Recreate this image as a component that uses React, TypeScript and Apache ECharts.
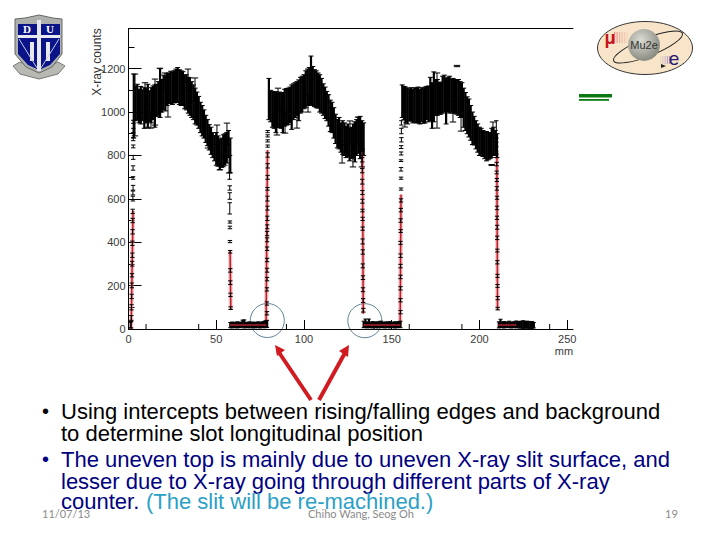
import React, { useEffect, useRef } from "react";
import * as echarts from "echarts";

const xTickLabels = [0, 50, 100, 150, 200, 250];
const xMinorTicks = [10, 40, 90, 140, 160, 190, 240];

const plateau1Start = 3;
const plateau1Hi = [1175,1120,1128,1105,1118,1102,1112,1108,1128,1098,1112,1120,1125,1128,1140,1200,1150,1170,1165,1178,1180,1188,1182,1190,1198,1205,1195,1190,1186,1170,1172,1160,1158,1140,1125,1110,1092,1072,1045,1030,1010,985,965,942,930,905,892,905,890,875,880,895,900,905,915,880];
const plateau1Lo = [880,960,965,950,945,960,925,950,930,955,950,965,930,980,985,975,1000,1010,1005,1030,1040,1040,1035,1042,1044,1045,1035,1030,1030,1015,1010,995,985,975,965,945,940,925,905,890,880,860,845,825,805,790,775,755,750,735,745,748,755,765,790,720];

const plateau2Start = 80;
const plateau2Hi = [1155,1100,1095,1090,1094,1088,1092,1086,1090,1105,1108,1110,1115,1125,1130,1135,1140,1148,1160,1165,1172,1190,1198,1205,1258,1210,1195,1190,1180,1172,1155,1130,1115,1095,1080,1055,1045,1020,990,965,975,950,960,950,935,945,925,930,945,955,965,975,980,960,950];
const plateau2Lo = [965,955,930,925,905,930,928,925,905,935,940,942,950,920,965,975,985,960,995,1000,1015,1020,1030,1032,1035,1030,1025,1020,1018,1000,995,985,970,960,935,910,905,880,855,835,830,815,805,800,790,795,775,785,790,770,800,810,785,820,800];

const plateau3Start = 156;
const plateau3Hi = [1125,1118,1115,1110,1105,1112,1105,1112,1108,1115,1105,1112,1108,1115,1118,1120,1160,1135,1185,1145,1150,1135,1138,1165,1170,1155,1160,1165,1150,1155,1150,1145,1150,1140,1135,1110,1090,1070,1060,1030,1000,980,960,945,930,925,915,905,910,905,905,925,930,915,900];
const plateau3Lo = [975,965,950,945,960,958,950,955,950,950,945,955,948,950,965,955,960,925,955,985,985,990,990,995,1000,945,1000,995,1000,995,995,990,985,975,975,930,915,900,885,870,850,848,830,815,800,805,795,785,775,780,785,790,800,805,790];

const background1Start = 58;
const background1Lo = [6,5,8,6,5,7,6,9,5,6,7,5,8,6,5,7,6,5,8,6,6,7];
const background1Hi = [30,32,29,31,33,30,32,41,42,31,30,33,29,32,30,31,33,30,32,34,38,40];
const background2Start = 134;
const background2Lo = [6,7,5,8,6,5,7,6,5,8,6,7,5,6,8,5,7,6,5,6,7,6];
const background2Hi = [36,46,33,46,31,34,30,33,31,35,36,32,30,33,31,34,30,32,33,31,34,36];
const background3Start = 211;
const background3Lo = [5,7,6,5,8,6,7,5,6,8,5,7,4,5,3,4,5,3,4,3,5];
const background3Hi = [33,45,32,34,30,33,36,32,31,34,37,33,35,36,38,34,36,35,33,34,30];

// [mm, low, high] error bars that stick out of the dense bands
const outlierBars: number[][] = [
  [3.7,890,1175],[9.4,1000,1135],[11,926,1000],[12.8,926,1000],[15.1,940,1152],[17.9,1000,1202],[20.8,1100,1180],[22.5,977,1100],[33.9,1100,1198],[37.9,1050,1157],[45.3,834,900],[50.4,850,940],[52.1,733,800],[56.1,850,949],[57.3,719,800],
  [84.6,894,1000],[85.2,1000,1110],[89.2,903,1000],[96,926,1000],[102.3,1000,1080],[121.7,765,850],[126.2,850,959],[127.9,747,820],[130.8,850,977],[133,747,830],
  [157.5,931,1000],[175.8,926,1180],[184.9,954,1050],[187.2,1209,1215],[189.5,912,1000],[207,754,758],[207.7,880,954],
];

// [mm, low, high] error bars on the edges
const edgeBars: number[][] = [
  [1.0,5,30],[1.5,5,35],[1.6,40,62],[1.7,88,112],[1.8,140,160],[1.9,190,212],[2.0,240,255],[2.1,290,312],[2.2,330,350],[2.2,385,405],[2.3,438,458],[2.4,490,510],[2.4,532,552],[2.5,590,612],[2.5,618,636],[2.6,640,662],[2.6,690,702],[2.6,732,752],[2.7,782,800],[2.7,835,848],[2.7,868,882],[2.7,905,925],[2.7,948,962],
  [57.6,690,722],[57.7,640,660],[57.7,598,628],[57.7,530,582],[57.8,488,498],[57.8,462,474],[57.8,398,408],[57.9,350,362],[58,262,278],[58,205,222],[58.1,150,165],[58.2,90,102],
  [78.9,65,80],[78.9,110,125],[78.9,175,190],[79,222,238],[79,262,280],[79,310,326],[79,362,378],[79,402,420],[79,430,450],[79.1,462,480],[79.1,500,520],[79.2,548,566],[79.2,590,612],[79.2,640,652],[79.3,690,708],[79.3,742,762],[79.3,792,812],[79.3,838,848],[79.3,862,872],[79.3,885,895],[79.3,905,915],
  [133.2,820,860],[133.2,770,790],[133.2,720,740],[133.2,668,690],[133.3,620,638],[133.3,580,598],[133.3,540,552],[133.4,500,515],[133.4,455,470],[133.4,392,415],[133.5,345,365],[133.5,282,300],[133.6,228,245],[133.6,172,190],[133.7,122,140],[133.8,78,95],
  [155,70,85],[155,125,140],[155,180,195],[155,232,248],[155,282,298],[155,330,346],[155,390,404],[155.1,445,458],[155.1,492,508],[155.2,540,556],[155.3,585,600],[155.3,640,650],[155.3,690,700],[155.3,728,744],[155.3,772,780],[155.4,802,816],[155.4,832,845],[155.5,862,882],[155.5,900,925],[155.5,940,960],
  [209.6,880,960],[209.6,840,860],[209.7,790,806],[209.8,752,768],[209.8,715,728],[209.9,680,694],[209.9,640,656],[210,598,612],[210,550,566],[210,505,520],[210.1,460,478],[210.1,412,428],[210.2,355,368],[210.2,300,315],[210.3,238,252],[210.3,192,205],[210.4,135,150],[210.4,88,100],
];

// [mm, counts] end points of the fitted edges and backgrounds
const riseFit1 = [[1.5, 0], [2.6, 545]];
const fallFit1 = [[57.9, 358], [58.3, 88]];
const riseFit2 = [[78.4, 20], [79.2, 825]];
const fallFit2 = [[133.3, 820], [133.8, 70]];
const riseFit3 = [[154.8, 20], [155.3, 620]];
const fallFit3 = [[209.9, 825], [210.3, 88]];
const backFit1 = [[57.8, 18], [78.6, 19]];
const backFit2 = [[133.9, 18], [154.9, 19]];
const backFit3 = [[210.7, 18], [221, 18]];

const columns = (start: number, lo: number[], hi: number[]) =>
  lo.map((v, i) => [start + i, v, hi[i]]);

const errorItem = (width: number, cap: number, color: string) => (_: any, api: any) => {
  const x = api.value(0);
  const a = api.coord([x, api.value(1)]);
  const b = api.coord([x, api.value(2)]);
  const style = { stroke: color, lineWidth: 1 };
  return {
    type: "group",
    children: [
      { type: "line", shape: { x1: a[0], y1: a[1], x2: b[0], y2: b[1] }, style: { stroke: color, lineWidth: width } },
      { type: "line", shape: { x1: a[0] - cap, y1: a[1], x2: a[0] + cap, y2: a[1] }, style },
      { type: "line", shape: { x1: b[0] - cap, y1: b[1], x2: b[0] + cap, y2: b[1] }, style },
    ],
  };
};

const barSeries = (data: number[][], width: number, cap: number, z: number) => ({
  type: "custom",
  silent: true,
  z,
  encode: { x: 0, y: [1, 2] },
  renderItem: errorItem(width, cap, "#000"),
  data,
});

const fitSeries = (data: number[][], width: number, color: string, z: number) => ({
  type: "line",
  silent: true,
  z,
  symbol: "none",
  lineStyle: { width, color },
  data,
});

const minorXSeries = {
  type: "custom",
  silent: true,
  z: 1,
  encode: { x: 0 },
  renderItem: (_: any, api: any) => {
    const p = api.coord([api.value(0), 0]);
    return { type: "line", shape: { x1: p[0], y1: p[1], x2: p[0], y2: p[1] - 5 }, style: { stroke: "#000", lineWidth: 1 } };
  },
  data: xMinorTicks.map((t) => [t]),
};

const SANS = "'Liberation Sans', Arial, sans-serif";
const FOOT = "Lato, 'Noto Sans', sans-serif";

const slideText = (x: number, y: number, text: string, fill: string) => ({
  type: "text",
  x,
  y,
  style: { text, fill, font: `22px ${SANS}`, textVerticalAlign: "middle" },
});
const footText = (x: number, y: number, text: string) => ({
  type: "text",
  x,
  y,
  style: { text, fill: "#8a8a8a", font: `11px ${FOOT}`, textVerticalAlign: "middle" },
});

const shapeRect = (x: number, y: number, w: number, h: number, fill: string) => ({
  type: "rect",
  shape: { x, y, width: w, height: h },
  style: { fill },
});

const arrow = (x1: number, y1: number, x2: number, y2: number, head: number[][]) => [
  { type: "line", shape: { x1, y1, x2, y2 }, style: { stroke: "#d01c20", lineWidth: 4 } },
  { type: "polygon", shape: { points: head }, style: { fill: "#d01c20" } },
];

const dukeLogo = [
  { type: "polygon", shape: { points: [[13,66],[20,62],[39,71],[58,62],[65,66],[58,74],[39,79],[20,74]] }, style: { fill: "#b9b9b4", stroke: "#777", lineWidth: 1 } },
  { type: "polygon", shape: { points: [[15,19],[25,18],[39,15],[53,18],[62,19],[62,54],[52,67],[39,73],[26,67],[15,54]] }, style: { fill: "#aeb0ad", stroke: "#666", lineWidth: 1 } },
  { type: "polygon", shape: { points: [[18,24],[60,24],[60,54],[50,65],[39,70],[28,65],[18,54]] }, style: { fill: "#0a1488" } },
  shapeRect(37, 20, 4, 51, "#e8e8f0"),
  shapeRect(18, 35, 42, 3, "#e8e8f0"),
  shapeRect(30, 42, 4, 19, "#e8e8f0"),
  shapeRect(46, 42, 4, 19, "#e8e8f0"),
  { type: "line", shape: { x1: 19, y1: 39, x2: 37, y2: 68 }, style: { stroke: "#c8cce8", lineWidth: 1 } },
  { type: "line", shape: { x1: 59, y1: 39, x2: 41, y2: 68 }, style: { stroke: "#c8cce8", lineWidth: 1 } },
  { type: "text", x: 27, y: 29, style: { text: "D", fill: "#fff", font: `bold 11px 'Liberation Serif', serif`, textAlign: "center", textVerticalAlign: "middle" } },
  { type: "text", x: 50, y: 29, style: { text: "U", fill: "#fff", font: `bold 11px 'Liberation Serif', serif`, textAlign: "center", textVerticalAlign: "middle" } },
];

const mu2eLogo = [
  { type: "ellipse", shape: { cx: 645, cy: 48, rx: 47.5, ry: 26.5 }, style: { fill: "#f7e4c9", stroke: "#333", lineWidth: 1 } },
  ...[0, 1, 2, 3, 4, 5].map((i) => shapeRect(614 + i * 2.5, 32, 1.2, 11, ["#e88a80", "#eb9c90", "#eeb0a0", "#f0bca8", "#f2c8b4", "#f4d4bc"][i])),
  ...[0, 1, 2, 3, 4].map((i) => shapeRect(660 + i * 2.3, 56, 1.2, 8, ["#ecd6c0", "#e0ccc4", "#ccbcc4", "#b4a4c0", "#9c8cbc"][i])),
  { type: "ellipse", x: 648, y: 47, originX: 0, originY: 0, rotation: 0.38, shape: { cx: 0, cy: 0, rx: 37, ry: 9 }, style: { fill: "none", stroke: "#222", lineWidth: 1 } },
  {
    type: "circle",
    shape: { cx: 644, cy: 45, r: 16 },
    style: { fill: new echarts.graphic.RadialGradient(0.4, 0.35, 0.7, [{ offset: 0, color: "#dcdcd4" }, { offset: 1, color: "#83857a" }]) },
  },
  { type: "text", x: 644, y: 45, style: { text: "Mu2e", fill: "#333", font: `11px ${SANS}`, textAlign: "center", textVerticalAlign: "middle" } },
  { type: "text", x: 610, y: 38, style: { text: "μ", fill: "#c8141e", font: `bold 18px ${SANS}`, textAlign: "center", textVerticalAlign: "middle" } },
  { type: "text", x: 674, y: 58, style: { text: "e", fill: "#2a1a70", font: `19px ${SANS}`, textAlign: "center", textVerticalAlign: "middle" } },
  { type: "polygon", shape: { points: [[661, 64], [666, 66], [661, 68]] }, style: { fill: "#222" } },
];

export default function App() {
  const ref = useRef<HTMLDivElement>(null);
  useEffect(() => {
    document.body.style.margin = "0";
    const chart = echarts.init(ref.current!, undefined, { renderer: "svg" });
    chart.setOption({
      animation: false,
      backgroundColor: "#fff",
      grid: { left: 128.5, top: 28.5, width: 444.5, height: 300.5, containLabel: false },
      xAxis: [
        {
          type: "value",
          min: 0,
          max: 253.3,
          interval: 50,
          position: "bottom",
          splitLine: { show: false },
          axisLine: { show: true, onZero: false, lineStyle: { color: "#000", width: 1 } },
          axisTick: { show: true, inside: true, length: 9, customValues: xTickLabels, lineStyle: { color: "#000" } },
          axisLabel: { customValues: xTickLabels, color: "#3a3a3a", fontFamily: SANS, fontSize: 11, margin: 4 },
        },
        {
          type: "value",
          min: 0,
          max: 253.3,
          position: "top",
          splitLine: { show: false },
          axisLine: { show: true, onZero: false, lineStyle: { color: "#000", width: 1 } },
          axisTick: { show: false },
          axisLabel: { show: false },
        },
      ],
      yAxis: {
        type: "value",
        min: 0,
        max: 1385,
        interval: 200,
        splitLine: { show: false },
        axisLine: { show: true, onZero: false, lineStyle: { color: "#000", width: 1 } },
        axisTick: { show: true, inside: true, length: 13, lineStyle: { color: "#000" } },
        minorTick: { show: true, splitNumber: 2, length: 6, lineStyle: { color: "#000" } },
        axisLabel: { color: "#3a3a3a", fontFamily: SANS, fontSize: 11, margin: 3, showMaxLabel: false, formatter: (v: number) => String(v) },
      },
      series: [
        minorXSeries,
        fitSeries(riseFit1, 4, "rgba(230,120,125,0.45)", 2),
        fitSeries(fallFit1, 4, "rgba(230,120,125,0.45)", 2),
        fitSeries(riseFit2, 4, "rgba(230,120,125,0.45)", 2),
        fitSeries(fallFit2, 4, "rgba(230,120,125,0.45)", 2),
        fitSeries(riseFit3, 4, "rgba(230,120,125,0.45)", 2),
        fitSeries(fallFit3, 4, "rgba(230,120,125,0.45)", 2),
        fitSeries(riseFit1, 1.5, "#bf1f2c", 3),
        fitSeries(fallFit1, 1.5, "#bf1f2c", 3),
        fitSeries(riseFit2, 1.5, "#bf1f2c", 3),
        fitSeries(fallFit2, 1.5, "#bf1f2c", 3),
        fitSeries(riseFit3, 1.5, "#bf1f2c", 3),
        fitSeries(fallFit3, 1.5, "#bf1f2c", 3),
        barSeries(edgeBars, 1, 2.2, 4),
        barSeries(outlierBars, 1, 3.2, 4),
        barSeries(columns(plateau1Start, plateau1Lo, plateau1Hi), 2.2, 2.5, 4),
        barSeries(columns(plateau2Start, plateau2Lo, plateau2Hi), 2.2, 2.5, 4),
        barSeries(columns(plateau3Start, plateau3Lo, plateau3Hi), 2.2, 2.5, 4),
        barSeries(columns(background1Start, background1Lo, background1Hi), 2.2, 2, 4),
        barSeries(columns(background2Start, background2Lo, background2Hi), 2.2, 2, 4),
        barSeries(columns(background3Start, background3Lo, background3Hi), 2.2, 2, 4),
        fitSeries(backFit1, 1.5, "#b0202a", 5),
        fitSeries(backFit2, 1.5, "#b0202a", 5),
        fitSeries(backFit3, 1.5, "#b0202a", 5),
      ],
      graphic: {
        elements: [
          ...dukeLogo,
          ...mu2eLogo,
          shapeRect(579, 94, 33, 3.5, "#0c7a12"),
          shapeRect(579, 99, 30, 1.8, "#0c7a12"),
          { type: "text", x: 97, y: 62, rotation: Math.PI / 2, style: { text: "X-ray counts", fill: "#333", font: `12px ${SANS}`, textAlign: "center", textVerticalAlign: "middle" } },
          { type: "text", x: 564, y: 351, style: { text: "mm", fill: "#3a3a3a", font: `11px ${SANS}`, textAlign: "center", textVerticalAlign: "middle" } },
          { type: "circle", shape: { cx: 267.3, cy: 320.5, r: 17 }, style: { fill: "none", stroke: "#5f8096", lineWidth: 1 } },
          { type: "circle", shape: { cx: 364.8, cy: 320.7, r: 17 }, style: { fill: "none", stroke: "#5f8096", lineWidth: 1 } },
          ...arrow(278, 351, 311, 400, [[275, 345], [285, 350], [277, 356]]),
          ...arrow(346, 351, 319, 400, [[349, 345], [348, 357], [339, 351]]),
          { type: "text", x: 42, y: 411, style: { text: "•", fill: "#000", font: `20px ${SANS}`, textVerticalAlign: "middle" } },
          slideText(61, 411, "Using intercepts between rising/falling edges and background", "#000"),
          slideText(61, 433, "to determine slot longitudinal position", "#000"),
          { type: "text", x: 42, y: 459, style: { text: "•", fill: "#000080", font: `20px ${SANS}`, textVerticalAlign: "middle" } },
          slideText(61, 459, "The uneven top is mainly due to uneven X-ray slit surface, and", "#000080"),
          slideText(61, 481, "lesser due to X-ray going through different parts of X-ray", "#000080"),
          slideText(61, 501, "counter.", "#000080"),
          slideText(146, 501, "(The slit will be re-machined.)", "#2c9fc6"),
          footText(42, 513, "11/07/13"),
          footText(308, 513, "Chiho Wang, Seog Oh"),
          footText(665, 513, "19"),
        ],
      },
    });
    return () => chart.dispose();
  }, []);
  return <div ref={ref} style={{ width: 720, height: 540 }} />;
}
